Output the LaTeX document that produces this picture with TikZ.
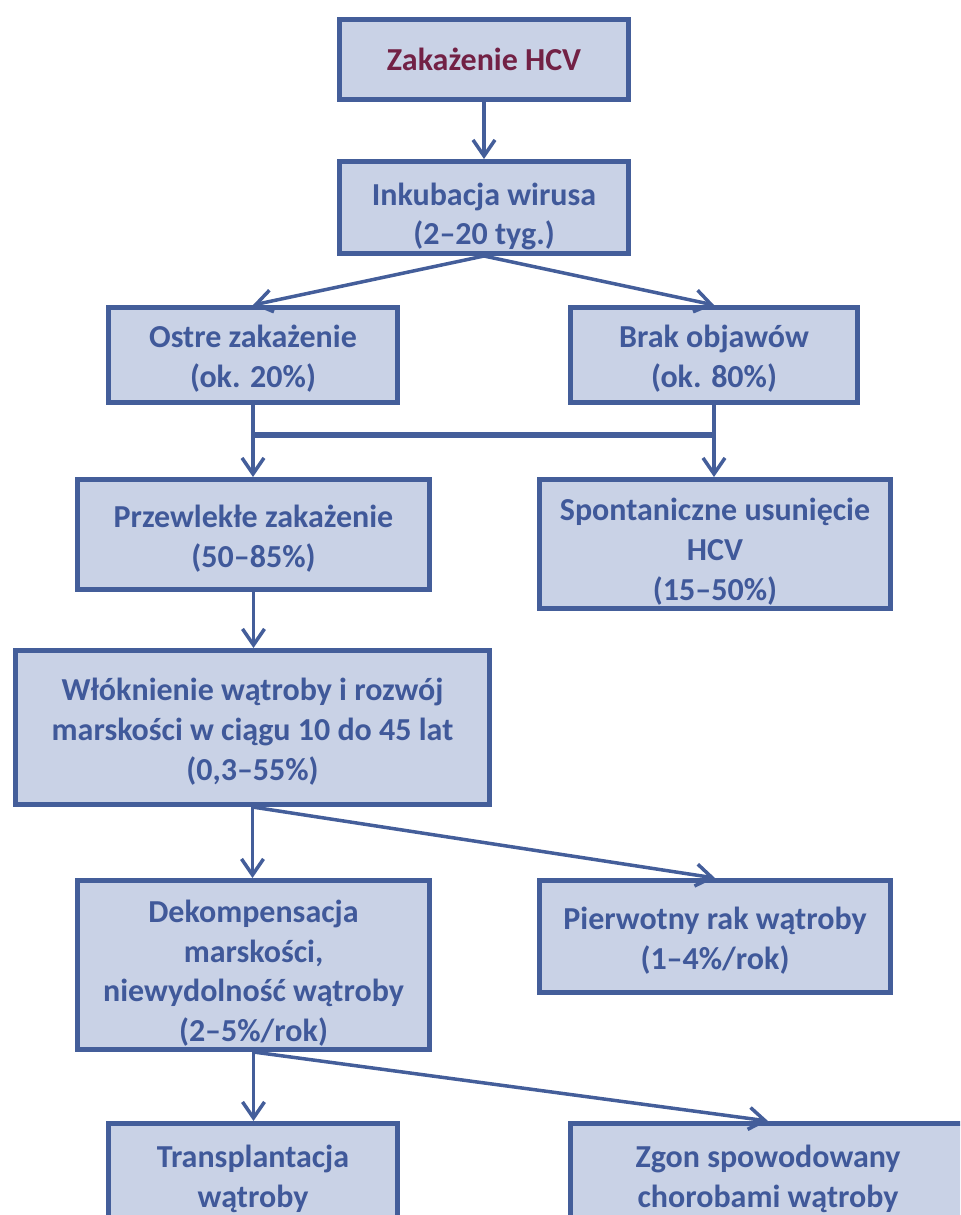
\documentclass[tikz,border=0pt]{standalone}
\usepackage{fontspec}
\setmainfont{Carlito}
\usetikzlibrary{arrows.meta}

\definecolor{boxline}{HTML}{445E9A}
\definecolor{boxfill}{HTML}{C9D2E6}
\definecolor{boxtext}{HTML}{40599A}
\definecolor{hcvred}{HTML}{722145}

\begin{document}
\begin{tikzpicture}[x=0.5pt, y=-0.5pt,
		box/.style={draw=boxline, fill=boxfill, line width=2.5pt, text=boxtext, align=center, inner sep=0pt,
			font=\fontsize{16}{19.8}\selectfont\bfseries},
		textdrop/.style={text height=#1},
		flow/.style={draw=boxline, line width=1.75pt, -{Straight Barb[length=8pt, width=11pt, line width=1.75pt]}},
		bar/.style={draw=boxline, line width=3pt}]
		\clip (0, 0) rectangle (960, 1215);
		
		% Stages
		% Infection
		\node[box, minimum width=144.5pt, minimum height=40pt, text=hcvred] (zakazenie) at (484, 59.5) {Zakażenie HCV};
		
		% Incubation
		\node[box, textdrop=40.2pt, minimum width=144.5pt, minimum height=46pt] (inkubacja) at (484, 207.5) {Inkubacja wirusa\\(2–20 tyg.)};
		
		% Acute / no symptoms
		\node[box, textdrop=35pt, minimum width=144.5pt, minimum height=47.5pt] (ostre) at (253, 355) {Ostre zakażenie\\(ok. 20\%)};
		\node[box, textdrop=35pt, minimum width=143.5pt, minimum height=47.5pt] (brak) at (714, 355) {Brak objawów\\(ok. 80\%)};
		
		% Chronic / cleared
		\node[box, textdrop=35pt, minimum width=176pt, minimum height=55pt] (przewlekle) at (253.5, 534.5) {Przewlekłe zakażenie\\(50–85\%)};
		\node[box, textdrop=58.6pt, minimum width=175.5pt, minimum height=64.5pt] (spontaniczne) at (715, 544) {Spontaniczne usunięcie\\HCV\\(15–50\%)};
		
		% Fibrosis
		\node[box, textdrop=55.1pt, minimum width=237pt, minimum height=77pt] (wloknienie) at (252.5, 727.5) {Włóknienie wątroby i rozwój\\marskości w ciągu 10 do 45 lat\\(0,3–55\%)};
		
		% Decompensation / cancer
		\node[box, textdrop=78.9pt, minimum width=176pt, minimum height=84.5pt] (dekompensacja) at (253.5, 965) {Dekompensacja\\marskości,\\niewydolność wątroby\\(2–5\%/rok)};
		\node[box, textdrop=35pt, minimum width=175.5pt, minimum height=56pt] (rak) at (715, 936.5) {Pierwotny rak wątroby\\(1–4\%/rok)};
		
		% Outcomes
		\node[box, textdrop=38.8pt, minimum width=144.5pt, minimum height=47.5pt] (transplantacja) at (253, 1171) {Transplantacja\\wątroby};
		\node[box, textdrop=38.8pt, minimum width=197.5pt, minimum height=47.5pt] (zgon) at (768, 1171) {Zgon spowodowany\\chorobami wątroby};
		
		% Connectors
		\draw[flow] (zakazenie) -- (inkubacja);
		\draw[flow] (inkubacja.south) -- (ostre.north);
		\draw[flow] (inkubacja.south) -- (brak.north);
		
		\draw[flow] (ostre.south) -- (ostre.south |- przewlekle.north);
		\draw[flow] (brak.south) -- (brak.south |- spontaniczne.north);
		
		% Cross bar
		\coordinate (barL) at (253, 435);
		\coordinate (barR) at (714, 435);
		\draw[bar] (barL) -- (barR);
		
		\draw[flow] (przewlekle.south) -- (przewlekle.south |- wloknienie.north);
		
		\draw[flow] (wloknienie.south) -- (wloknienie.south |- dekompensacja.north);
		\draw[flow] (wloknienie.south) -- (rak.north);
		
		\draw[flow] (dekompensacja.south) -- (dekompensacja.south |- transplantacja.north);
		\draw[flow] (dekompensacja.south) -- (zgon.north);
		
	\end{tikzpicture}
\end{document}
